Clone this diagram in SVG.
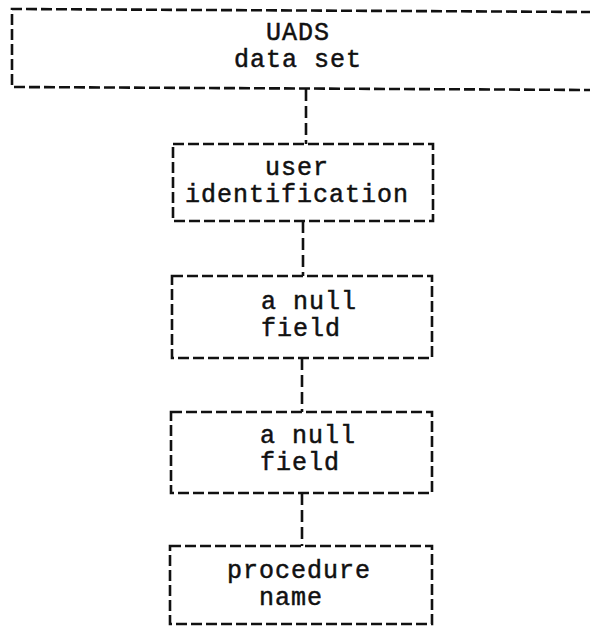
<svg xmlns="http://www.w3.org/2000/svg" width="590" height="629" viewBox="0 0 590 629">
  <style>
    .box { fill: none; stroke: #111; stroke-width: 2.6; stroke-dasharray: 11 4; }
    .conn { fill: none; stroke: #111; stroke-width: 2.6; stroke-dasharray: 12 5; }
    .lbl { font-family: "Liberation Mono", "Courier New", monospace; font-size: 25px; letter-spacing: 1px; fill: #111; stroke: #111; stroke-width: 0.5; }
  </style>
  <rect width="590" height="629" fill="#fff"/>
  <g id="connectors">
    <line class="conn" x1="306" y1="89" x2="306" y2="144"/>
    <line class="conn" x1="303" y1="221" x2="303" y2="276"/>
    <line class="conn" x1="302" y1="358" x2="302" y2="412"/>
    <line class="conn" x1="302" y1="493" x2="302" y2="546"/>
  </g>
  <g id="uads">
    <path class="box" d="M592,12 L12,9 L12,87 L592,90"/>
    <text class="lbl" x="266" y="40">UADS</text>
    <text class="lbl" x="234" y="67">data set</text>
  </g>
  <g id="userid">
    <rect class="box" x="173" y="144" width="260" height="77"/>
    <text class="lbl" x="265" y="175">user</text>
    <text class="lbl" x="185" y="202">identification</text>
  </g>
  <g id="null1">
    <rect class="box" x="172" y="276" width="260" height="82"/>
    <text class="lbl" x="261" y="309">a null</text>
    <text class="lbl" x="261" y="336">field</text>
  </g>
  <g id="null2">
    <rect class="box" x="171" y="412" width="261" height="81"/>
    <text class="lbl" x="260" y="443">a null</text>
    <text class="lbl" x="260" y="470">field</text>
  </g>
  <g id="procname">
    <rect class="box" x="170" y="546" width="262" height="78"/>
    <text class="lbl" x="227" y="578">procedure</text>
    <text class="lbl" x="259" y="605">name</text>
  </g>
</svg>
